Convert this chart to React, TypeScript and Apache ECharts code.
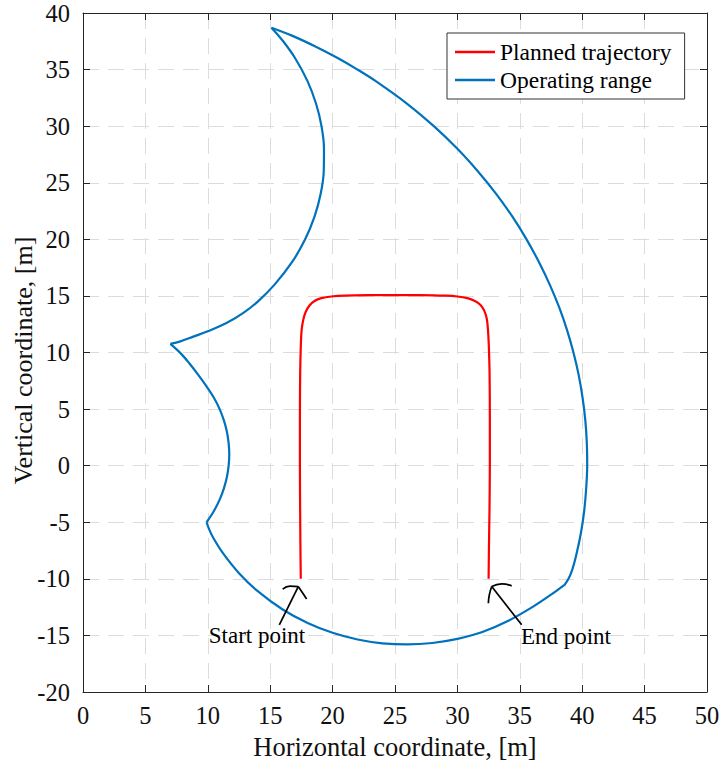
import React, { useEffect, useRef } from 'react';
import * as echarts from 'echarts';

// Planned trajectory (x, y) in metres
const trajX = [17.45, 17.42, 17.4, 17.38, 17.38, 17.4, 17.45, 17.52, 17.65, 17.85, 18.15, 18.55, 19.1, 19.9, 21, 23, 25, 27, 29, 30, 30.8, 31.4, 31.85, 32.15, 32.35, 32.45, 32.52, 32.58, 32.6, 32.6, 32.57, 32.53, 32.5];
const trajY = [-10, -7, -4, 0, 4, 8, 10.5, 12.0, 12.9, 13.6, 14.15, 14.55, 14.8, 14.95, 15.03, 15.07, 15.08, 15.07, 15.02, 14.95, 14.8, 14.55, 14.2, 13.7, 13.0, 12.0, 10.5, 8, 4, 0, -4, -7, -10];

// Operating range boundary, in four arcs (x, y) in metres
const outerX = [15.1, 16.74, 18.7, 20.44, 22.0, 23.43, 25.95, 28.11, 30.0, 31.65, 33.12, 34.41, 35.54, 36.53, 37.4, 38.15, 38.78, 39.3, 39.72, 40.03, 40.25, 40.37, 40.4, 40.32, 40.16, 39.89, 39.5, 39.2, 38.9, 38.55];
const outerY = [38.7, 38, 37, 36, 35, 34, 32, 30, 28, 26, 24, 22, 20, 18, 16, 14, 12, 10, 8, 6, 4, 2, 0, -2, -4, -6, -8, -9.2, -10.0, -10.6];
const bottomX = [38.55, 37.5, 36, 34, 32, 30, 28, 26, 24, 22, 20, 18, 16, 14, 12.5, 11.2, 10.4, 10.1, 9.9];
const bottomY = [-10.55, -11.4, -12.5, -13.75, -14.7, -15.31, -15.67, -15.8, -15.7, -15.36, -14.77, -13.9, -12.71, -11.09, -9.5, -7.71, -6.3, -5.6, -5.0];
const lowerLeftX = [9.9, 10.49, 10.95, 11.29, 11.53, 11.67, 11.72, 11.67, 11.53, 11.29, 10.95, 10.49, 9.9, 9.25, 8.55, 7.85, 7.0];
const lowerLeftY = [-5.0, -4, -3, -2, -1, 0, 1, 2, 3, 4, 5, 6, 7, 8, 9.0, 9.9, 10.76];
const upperInnerX = [7.0, 7.8, 8.84, 10.0, 11.5, 12.85, 14.0, 15.35, 16.76, 17.8, 18.55, 19.04, 19.29, 19.31, 19.11, 18.67, 17.98, 17.0, 16.04, 15.1];
const upperInnerY = [10.76, 10.98, 11.4, 11.87, 12.6, 13.5, 14.5, 16, 18, 20, 22, 24, 26, 28, 30, 32, 34, 36, 37.5, 38.7];

// Annotations (data coordinates)
const annotTexts = ['Start point', 'End point'];
const annotTextX = [13.94, 38.7];
const annotTextY = [-15.05, -15.1];
const startShaft = [[15.73, -14.06], [17.25, -10.68]];
const startArmA = [[16.0, -10.91], [16.59, -10.65], [17.25, -10.68]];
const startArmB = [[17.25, -10.68], [17.6, -11.26], [17.92, -11.79]];
const endShaft = [[35.15, -14.06], [32.75, -10.68]];
const endArmA = [[32.75, -10.68], [33.55, -10.45], [34.35, -10.62]];
const endArmB = [[32.75, -10.68], [32.56, -11.41], [32.48, -12.15]];

const xMin = 0, xMax = 50, yMin = -20, yMax = 40, tickStep = 5;

const FONT = "'Liberation Serif', 'Times New Roman', Times, serif";
const AX = '#262626';
const RED = '#FF0000';
const BLUE = '#0072BD';

export default function App() {
  const ref = useRef<HTMLDivElement>(null);
  useEffect(() => {
    const chart = echarts.init(ref.current!, null, { renderer: 'svg' });
    const zip = (xs: number[], ys: number[]) => xs.map((x, i) => [x, ys[i]]);
    const annotLine = (name: string, data: number[][], smooth: boolean) => ({
      name, type: 'line', data, symbol: 'none', smooth: smooth ? 0.5 : false,
      lineStyle: { color: '#000', width: 1.7 }, itemStyle: { color: '#000' },
      silent: true, z: 4,
    });
    const rangePart = (xs: number[], ys: number[]) => ({
      name: 'Operating range', type: 'line', data: zip(xs, ys), symbol: 'none', smooth: 0.35,
      lineStyle: { color: BLUE, width: 2.2 }, itemStyle: { color: BLUE }, z: 3,
    });
    const baseAxis = {
      interval: tickStep,
      axisLine: { show: true, onZero: false, lineStyle: { color: AX, width: 1 } },
      axisTick: { show: true, inside: true, length: 7, lineStyle: { color: AX } },
    };
    const grid = { show: true, lineStyle: { color: '#dcdcdc', type: [16, 9], width: 1 } };
    chart.setOption({
      animation: false,
      backgroundColor: '#fff',
      grid: { left: 83, right: 15, top: 13, bottom: 75, containLabel: false, outerBoundsMode: 'none' },
      xAxis: [
        {
          ...baseAxis, type: 'value', min: xMin, max: xMax, position: 'bottom',
          axisLabel: { fontFamily: FONT, fontSize: 24.5, color: '#111', margin: 11 },
          splitLine: grid,
          name: 'Horizontal coordinate, [m]', nameLocation: 'middle', nameGap: 41, nameMoveOverlap: false,
          nameTextStyle: { fontFamily: FONT, fontSize: 26.5, color: '#111' },
        },
        {
          ...baseAxis, type: 'value', min: xMin, max: xMax, position: 'top',
          axisLabel: { show: false }, splitLine: { show: false },
        },
      ],
      yAxis: [
        {
          ...baseAxis, type: 'value', min: yMin, max: yMax, position: 'left',
          axisLabel: { fontFamily: FONT, fontSize: 24.5, color: '#111', margin: 13 },
          splitLine: grid,
          name: 'Vertical coordinate, [m]', nameLocation: 'middle', nameGap: 47, nameMoveOverlap: false,
          nameTextStyle: { fontFamily: FONT, fontSize: 26, color: '#111', padding: [0, 16, 0, 0] },
        },
        {
          ...baseAxis, type: 'value', min: yMin, max: yMax, position: 'right',
          axisLabel: { show: false }, splitLine: { show: false },
        },
      ],
      legend: {
        data: [
          { name: 'Planned trajectory', icon: 'rect' },
          { name: 'Operating range', icon: 'rect' },
        ],
        orient: 'vertical', left: 447, top: 33,
        itemWidth: 40, itemHeight: 2.4, itemGap: 4,
        padding: [7, 13, 7, 8],
        backgroundColor: '#fff', borderColor: '#333', borderWidth: 1,
        textStyle: { fontFamily: FONT, fontSize: 23.5, color: '#000', lineHeight: 24 },
      },
      series: [
        {
          name: 'Planned trajectory', type: 'line', data: zip(trajX, trajY), symbol: 'none', smooth: 0.3,
          lineStyle: { color: RED, width: 2.2 }, itemStyle: { color: RED }, z: 3,
        },
        rangePart(outerX, outerY),
        rangePart(bottomX, bottomY),
        rangePart(lowerLeftX, lowerLeftY),
        rangePart(upperInnerX, upperInnerY),
        annotLine('a1', startShaft, false),
        annotLine('a2', startArmA, true),
        annotLine('a3', startArmB, true),
        annotLine('a4', endShaft, false),
        annotLine('a5', endArmA, true),
        annotLine('a6', endArmB, true),
      ],
    });
    const graphics = annotTexts.map((t, i) => {
      const p = chart.convertToPixel({ gridIndex: 0 }, [annotTextX[i], annotTextY[i]]) as number[];
      return {
        type: 'text', x: p[0], y: p[1], z: 10,
        style: { text: t, fontFamily: FONT, fontSize: 23, fill: '#000', align: 'center', verticalAlign: 'middle' },
      };
    });
    chart.setOption({ graphic: graphics });
    return () => chart.dispose();
  }, []);
  return <div ref={ref} style={{ position: 'absolute', left: 0, top: 0, width: 722, height: 767, background: '#fff' }} />;
}
